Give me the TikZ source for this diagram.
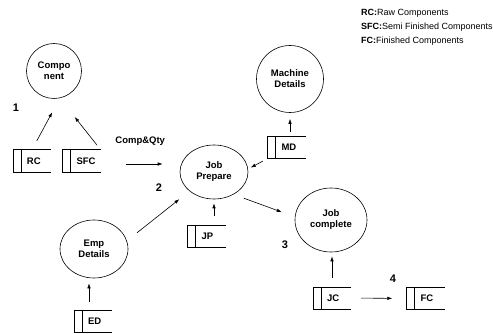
\documentclass[tikz,border=0pt]{standalone}
\usepackage{fontspec}
\setmainfont{Liberation Sans}
\usetikzlibrary{arrows.meta,shapes.geometric}

\begin{document}
\begin{tikzpicture}[x=1pt, y=-1pt, >={Latex[length=5pt,width=3.5pt]},
  proc/.style={draw, ellipse, line width=0.6pt, inner sep=0pt, align=center, font=\fontsize{9.5}{11}\selectfont\bfseries},
  store/.style={minimum width=38pt, minimum height=22pt, inner sep=0pt, label={[storelabel]west:#1}},
  storelabel/.style={anchor=west, xshift=14pt, inner sep=0pt, font=\fontsize{9.5}{11}\selectfont\bfseries},
  flow/.style={->, line width=0.6pt},
  stepno/.style={font=\fontsize{11}{12}\selectfont\bfseries}]
  \useasboundingbox (0,0) rectangle (493,334);

  % processes
  \node[proc, minimum width=55pt, minimum height=55pt] (comp) at (54,71) {Compo\\nent};
  \node[proc, minimum width=67pt, minimum height=67pt] (mach) at (290,79) {Machine\\Details};
  \node[proc, minimum width=68pt, minimum height=54pt] (prep) at (214,172) {Job\\Prepare};
  \node[proc, minimum width=72pt, minimum height=64pt] (done) at (331,220) {Job\\complete};
  \node[proc, minimum width=68pt, minimum height=58pt] (emp) at (94,249) {Emp\\Details};

  % data stores
  \node[store=RC] (rc) at (32,161) {};
  \node[store=SFC] (sfc) at (81.5,161) {};
  \node[store=MD] (md) at (286.5,147.5) {};
  \node[store=JP] (jp) at (206.5,236.5) {};
  \node[store=ED] (ed) at (93,321) {};
  \node[store=JC] (jc) at (332,298) {};
  \node[store=FC] (fc) at (425.5,298.5) {};
  \foreach \s in {rc,sfc,md,jp,ed,jc,fc}
    \draw[line width=0.6pt] (\s.north east) -- (\s.north west) -- (\s.south west) -- (\s.south east)
      ([xshift=8pt]\s.north west) -- ([xshift=8pt]\s.south west);

  % step numbers
  \node[stepno] (n1) at (16,108) {1};
  \node[stepno] (n2) at (159,188) {2};
  \node[stepno] (n3) at (285,245) {3};
  \node[stepno] (n4) at (393,279) {4};

  % flows
  \draw[flow, shorten <=10pt, shorten >=16pt] (rc.north) -- (comp.282);
  \draw[flow, shorten <=6pt, shorten >=24pt] (sfc.north east) -- (comp.282);
  \draw[flow, shorten <=25pt, shorten >=17pt] ([yshift=-3pt]sfc.east) -- ([yshift=-3pt]sfc.east -| prep.west)
    node[midway, above=15pt, font=\fontsize{9.5}{11}\selectfont\bfseries] (qty) {Comp\&Qty};
  \draw[flow, shorten <=4pt, shorten >=6pt] (md.north -| mach.south) -- (mach.south);
  \draw[flow, shorten <=5pt, shorten >=3pt] (md.south west) -- (prep.5);
  \draw[flow, shorten <=9pt, shorten >=4pt] (jp.north -| prep.south) -- (prep.south);
  \draw[flow, shorten <=11pt, shorten >=14pt] (prep.311) -- (done.175);
  \draw[flow, shorten <=13pt, shorten >=13pt] (emp.14) -- (prep.218);
  \draw[flow, shorten <=8pt, shorten >=5pt] ([xshift=-4pt]ed.north) -- ([xshift=-4pt]ed.north |- emp.south);
  \draw[flow, shorten <=9pt, shorten >=4pt] (jc.north) -- (jc.north |- done.south);
  \draw[flow, shorten <=10pt, shorten >=14pt] (jc.east) -- (fc.west);

  % key
  \node[anchor=north west, align=left, inner sep=0pt, font=\fontsize{9}{14}\selectfont] (key) at (361,9)
    {\textbf{RC:}Raw Components\\\textbf{SFC:}Semi Finished Components\\\textbf{FC:}Finished Components};
\end{tikzpicture}
\end{document}
